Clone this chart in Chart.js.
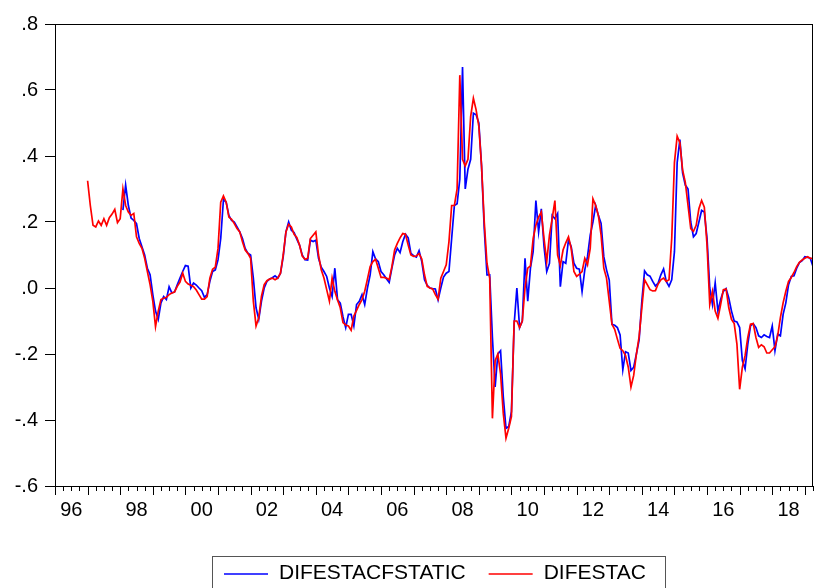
<!DOCTYPE html>
<html>
<head>
<meta charset="utf-8">
<script src="https://cdn.jsdelivr.net/npm/chart.js@4.4.1/dist/chart.umd.min.js"></script>
<style>
  html, body { margin: 0; padding: 0; background: #fff; }
</style>
</head>
<body>
<canvas id="myChart" width="814" height="588"></canvas>
<script>
// monthly series, DIFESTAC starts 1997M01, DIFESTACFSTATIC starts 1998M02
const redStart = [1997, 1];
const blueStart = [1998, 2];

const difestac = [
  0.325, 0.25, 0.19, 0.185, 0.203, 0.19, 0.21, 0.19, 0.213, 0.224, 0.238, 0.198,
  0.21, 0.30, 0.25, 0.23, 0.22, 0.226, 0.155, 0.135, 0.12, 0.09, 0.05, 0.01,
  -0.04, -0.117, -0.07, -0.035, -0.031, -0.028, -0.02, -0.015, -0.012, 0.005, 0.018, 0.045,
  0.02, 0.012, 0.008, 0.004, -0.006, -0.02, -0.034, -0.034, -0.026, 0.03, 0.057, 0.063,
  0.12, 0.26, 0.279, 0.26, 0.215, 0.208, 0.195, 0.18, 0.17, 0.14, 0.115, 0.105,
  0.09, -0.04, -0.115, -0.09, -0.025, 0.01, 0.022, 0.027, 0.03, 0.025, 0.03, 0.045,
  0.1, 0.17, 0.193, 0.185, 0.163, 0.153, 0.13, 0.097, 0.087, 0.09, 0.15, 0.16,
  0.17, 0.1, 0.055, 0.03, -0.005, -0.04, 0.03, -0.01, -0.036, -0.06, -0.105, -0.112,
  -0.115, -0.128, -0.085, -0.068, -0.05, -0.035, -0.01, 0.027, 0.065, 0.08, 0.087, 0.06,
  0.032, 0.032, 0.03, 0.025, 0.065, 0.115, 0.135, 0.152, 0.165, 0.163, 0.13, 0.1,
  0.096, 0.097, 0.104, 0.088, 0.04, 0.005, 0.0, -0.003, -0.02, -0.034, 0.03, 0.05,
  0.07, 0.14, 0.25, 0.25, 0.3, 0.645, 0.39, 0.37, 0.39, 0.52, 0.575, 0.54,
  0.49, 0.37, 0.2, 0.075, 0.03, -0.395, -0.22, -0.2, -0.26, -0.38, -0.455, -0.425,
  -0.39, -0.1, -0.1, -0.12, -0.1, 0.0, 0.06, 0.067, 0.15, 0.19, 0.215, 0.23,
  0.15, 0.08, 0.16, 0.21, 0.265, 0.1, 0.068, 0.115, 0.137, 0.155, 0.12, 0.05,
  0.035, 0.042, 0.05, 0.09, 0.07, 0.12, 0.27, 0.25, 0.22, 0.16, 0.06, 0.03,
  -0.04, -0.11, -0.125, -0.155, -0.183, -0.19, -0.205, -0.24, -0.3, -0.265, -0.2, -0.147,
  -0.06, 0.025, 0.01, -0.005, -0.009, -0.008, 0.012, 0.025, 0.03, 0.02, 0.025, 0.15,
  0.38, 0.46, 0.44, 0.358, 0.32, 0.25, 0.18, 0.172, 0.19, 0.24, 0.265, 0.245,
  0.13, -0.05, -0.01, -0.07, -0.092, -0.05, -0.005, -0.003, -0.06, -0.095, -0.108, -0.17,
  -0.307, -0.24, -0.205, -0.15, -0.11, -0.108, -0.15, -0.18, -0.172, -0.178, -0.197, -0.197,
  -0.187, -0.178, -0.145, -0.09, -0.045, -0.01, 0.02, 0.032, 0.047, 0.065, 0.078, 0.085,
  0.09, 0.095, 0.09, 0.09
];

const difestacfstatic = [
  0.236, 0.312, 0.25, 0.212, 0.205, 0.195, 0.15, 0.125, 0.1, 0.06, 0.04,
  -0.02, -0.07, -0.095, -0.045, -0.026, -0.035, 0.004, -0.015, -0.012, 0.01, 0.03, 0.05,
  0.068, 0.066, 0.0, 0.015, 0.009, 0.0, -0.008, -0.028, -0.02, 0.02, 0.05, 0.055,
  0.085, 0.15, 0.268, 0.26, 0.22, 0.205, 0.2, 0.185, 0.17, 0.15, 0.12, 0.105,
  0.1, 0.03, -0.06, -0.095, -0.04, 0.0, 0.02, 0.027, 0.031, 0.037, 0.03, 0.045,
  0.095, 0.17, 0.2, 0.175, 0.168, 0.148, 0.13, 0.1, 0.086, 0.085, 0.145, 0.141,
  0.145, 0.09, 0.063, 0.05, 0.035, 0.0, -0.026, 0.06, -0.036, -0.046, -0.087, -0.12,
  -0.08, -0.08, -0.115, -0.05, -0.04, -0.02, -0.05, 0.0, 0.04, 0.11, 0.088, 0.08,
  0.05, 0.04, 0.028, 0.017, 0.06, 0.1, 0.12, 0.107, 0.14, 0.163, 0.152, 0.105,
  0.098, 0.094, 0.113, 0.08, 0.025, 0.008, 0.0, -0.002, -0.003, -0.036, 0.0, 0.033,
  0.045, 0.05, 0.15, 0.25, 0.255, 0.33, 0.67, 0.3, 0.36, 0.39, 0.53, 0.525,
  0.5, 0.37, 0.18, 0.04, 0.04, -0.15, -0.3, -0.2, -0.19, -0.33, -0.425, -0.42,
  -0.375, -0.11, 0.0, -0.12, -0.1, 0.09, -0.04, 0.06, 0.11, 0.265, 0.17, 0.24,
  0.125, 0.05, 0.075, 0.22, 0.21, 0.226, 0.004, 0.08, 0.075, 0.147, 0.125, 0.075,
  0.06, 0.057, -0.011, 0.055, 0.095, 0.16, 0.2, 0.25, 0.22, 0.196, 0.095, 0.055,
  0.024, -0.11, -0.113, -0.12, -0.142, -0.248, -0.193, -0.197, -0.25, -0.24, -0.2, -0.157,
  -0.04, 0.052, 0.04, 0.036, 0.02, 0.006, 0.015, 0.04, 0.058, 0.02, 0.005, 0.025,
  0.11, 0.38, 0.45, 0.349, 0.312, 0.3, 0.2, 0.155, 0.165, 0.2, 0.235, 0.23,
  0.15, 0.0, -0.05, 0.016, -0.07, -0.035, -0.01, -0.002, -0.03, -0.07, -0.1, -0.103,
  -0.12, -0.22, -0.245, -0.17, -0.115, -0.108, -0.12, -0.145, -0.15, -0.142, -0.147, -0.15,
  -0.115, -0.19, -0.14, -0.145, -0.08, -0.045, 0.01, 0.035, 0.037, 0.06, 0.077, 0.083,
  0.095, 0.093, 0.09, 0.065
];

const labelYears = [1996, 1998, 2000, 2002, 2004, 2006, 2008, 2010, 2012, 2014, 2016, 2018];
const yTicks = [-0.6, -0.4, -0.2, 0.0, 0.2, 0.4, 0.6, 0.8];

const xMin = 1996;
const xMax = 2019.25;

function toPoints(start, values) {
  return values.map((v, i) => ({ x: start[0] + (start[1] - 1 + i) / 12, y: v }));
}

const fontFamily = "'Liberation Sans', Arial, sans-serif";

const frameAndTicks = {
  id: 'frameAndTicks',
  afterDraw(chart) {
    const { ctx, chartArea: a } = chart;
    const x = chart.scales.x;
    ctx.save();
    ctx.strokeStyle = '#000';
    ctx.lineWidth = 1;
    ctx.strokeRect(a.left + 0.5, a.top + 0.5, a.right - a.left - 1, a.bottom - a.top);
    // quarterly tick marks, longer at each year
    const n = Math.round((xMax - xMin) * 4);
    for (let q = 0; q <= n; q++) {
      const px = Math.round(x.getPixelForValue(xMin + q / 4)) + 0.5;
      const len = q % 4 === 0 ? 9 : 5;
      ctx.beginPath();
      ctx.moveTo(px, a.bottom);
      ctx.lineTo(px, a.bottom + len);
      ctx.stroke();
    }

    // legend box
    ctx.font = '21px ' + fontFamily;
    ctx.textBaseline = 'middle';
    const items = chart.data.datasets.map(d => ({ label: d.label, color: d.borderColor }));
    let lx = 212;
    const ly = 573;
    ctx.strokeStyle = '#555';
    ctx.strokeRect(lx + 0.5, 556.5, 453, 60);
    lx += 12;
    items.forEach((it, i) => {
      ctx.strokeStyle = it.color;
      ctx.lineWidth = 1.5;
      ctx.beginPath();
      ctx.moveTo(lx, ly + 1);
      ctx.lineTo(lx + 44, ly + 1);
      ctx.stroke();
      ctx.fillStyle = '#000';
      ctx.fillText(it.label, lx + 55, ly);
      lx += 55 + ctx.measureText(it.label).width + 23;
    });
    ctx.restore();
  }
};

const ctx = document.getElementById('myChart').getContext('2d');

const myChart = new Chart(ctx, {
  type: 'line',
  data: {
    datasets: [
      {
        label: 'DIFESTACFSTATIC',
        data: toPoints(blueStart, difestacfstatic),
        borderColor: '#0000FF',
        borderWidth: 1.7,
        pointRadius: 0,
        tension: 0,
        order: 1
      },
      {
        label: 'DIFESTAC',
        data: toPoints(redStart, difestac),
        borderColor: '#FF0000',
        borderWidth: 1.7,
        pointRadius: 0,
        tension: 0,
        order: 0
      }
    ]
  },
  options: {
    responsive: false,
    animation: false,
    layout: { padding: { top: 24, right: 1, left: 0, bottom: 0 } },
    plugins: {
      legend: { display: false },
      tooltip: { enabled: false }
    },
    scales: {
      x: {
        type: 'linear',
        min: xMin,
        max: xMax,
        afterBuildTicks: (scale) => {
          scale.ticks = labelYears.map(y => ({ value: y + 0.5 }));
        },
        afterFit: (scale) => { scale.height = 102; },
        grid: { display: false, drawTicks: false },
        border: { color: '#000', width: 1 },
        ticks: {
          autoSkip: false,
          maxRotation: 0,
          padding: 12,
          color: '#000',
          font: { family: fontFamily, size: 20 },
          callback: (v) => String(Math.floor(v) % 100).padStart(2, '0')
        }
      },
      y: {
        min: -0.6,
        max: 0.8,
        afterBuildTicks: (scale) => {
          scale.ticks = yTicks.map(v => ({ value: v }));
        },
        afterFit: (scale) => { scale.width = 55; },
        grid: { drawOnChartArea: false, drawTicks: true, tickLength: 10, tickColor: '#000' },
        border: { color: '#000', width: 1 },
        ticks: {
          padding: 7,
          color: '#000',
          font: { family: fontFamily, size: 20 },
          callback: (v) => (Math.round(v * 10) / 10).toFixed(1).replace('0.', '.')
        }
      }
    }
  },
  plugins: [frameAndTicks]
});
</script>
</body>
</html>
